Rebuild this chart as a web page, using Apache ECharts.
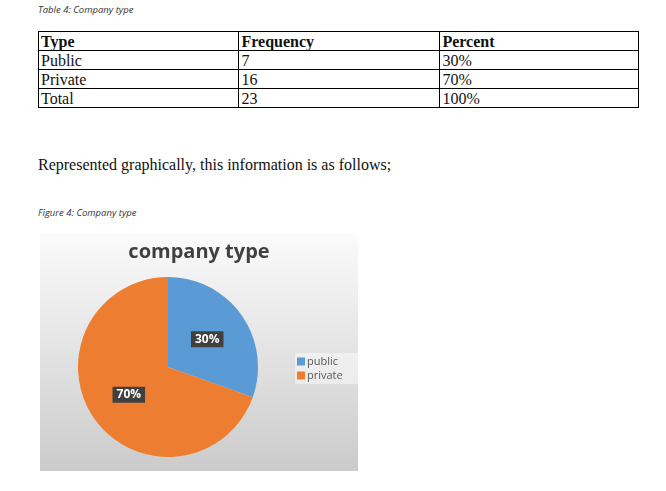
<!DOCTYPE html>
<html>
<head>
<meta charset="utf-8">
<script src="https://cdn.jsdelivr.net/npm/echarts@6/dist/echarts.min.js"></script>
<style>
  body { margin: 0; background: #fff; width: 666px; height: 491px; position: relative; overflow: hidden; }
  .cap { position: absolute; left: 38px; font-family: "Open Sans", sans-serif; font-style: italic; font-size: 9.5px; color: #333; }
  table { position: absolute; left: 38px; top: 31px; width: 601px; border-collapse: collapse; font-family: "Liberation Serif", serif; font-size: 16px; color: #111; }
  td, th { border: 1px solid #000; height: 18px; padding: 0 0 0 2px; text-align: left; line-height: 17px; }
  th { font-weight: bold; }
  .para { position: absolute; left: 38px; top: 156px; font-family: "Liberation Serif", serif; font-size: 16px; color: #111; }
  .echarts_1 { position: absolute; left: 40px; top: 233px; width: 318px; height: 238px; }
</style>
</head>
<body>
<div class="cap" style="top:3px">Table 4: Company type</div>
<table id="tbl"></table>
<div class="para">Represented graphically, this information is as follows;</div>
<div class="cap" style="top:206px">Figure 4: Company type</div>
<div class="echarts_1"></div>
<script>
// 表格数据
var tableHead = ['Type', 'Frequency', 'Percent'];
var rowNames = ['Public', 'Private', 'Total'];
var rowFreq = ['7', '16', '23'];
var rowPct = ['30%', '70%', '100%'];

// 饼图数据
var pieNames = ['public', 'private'];
var pieValues = [7, 16];
var pieColors = ['#5b9bd5', '#ed7d31'];

// 生成表格
var html = '<tr>' + tableHead.map(function (h, i) {
  return '<th style="width:' + (i < 2 ? 200 : 198) + 'px">' + h + '</th>';
}).join('') + '</tr>';
for (var i = 0; i < rowNames.length; i++) {
  html += '<tr><td>' + rowNames[i] + '</td><td>' + rowFreq[i] + '</td><td>' + rowPct[i] + '</td></tr>';
}
document.getElementById('tbl').innerHTML = html;

// 饼图
var echarts_1 = echarts.init(document.querySelector('.echarts_1'));
var option = {
  backgroundColor: {
    type: 'linear', x: 0, y: 0, x2: 0, y2: 1,
    colorStops: [{ offset: 0, color: '#fbfbfb' }, { offset: 1, color: '#cbcbcb' }]
  },
  title: {
    text: 'company type',
    left: 'center',
    top: 4,
    textStyle: { fontFamily: 'Open Sans', fontSize: 20, fontWeight: 'bold', color: '#404040' }
  },
  legend: {
    orient: 'vertical',
    left: 255,
    top: 120,
    padding: [3, 20, 3, 2],
    backgroundColor: 'rgba(255,255,255,0.45)',
    itemWidth: 8,
    itemHeight: 8,
    itemGap: 3,
    icon: 'rect',
    textStyle: { fontFamily: 'Open Sans', fontSize: 11, color: '#595959', padding: [0, 0, 0, -3] },
    data: pieNames
  },
  series: [{
    type: 'pie',
    radius: 90,
    center: [128, 134],
    startAngle: 90,
    clockwise: true,
    silent: true,
    color: pieColors,
    label: {
      position: 'inside',
      formatter: function (p) { return Math.round(p.percent) + '%'; },
      color: '#fff',
      fontFamily: 'Open Sans',
      fontWeight: 'bold',
      fontSize: 12,
      backgroundColor: '#404040',
      padding: [2, 4]
    },
    labelLine: { show: false },
    data: pieNames.map(function (n, i) { return { name: n, value: pieValues[i] }; })
  }]
};
echarts_1.setOption(option);
</script>
</body>
</html>
